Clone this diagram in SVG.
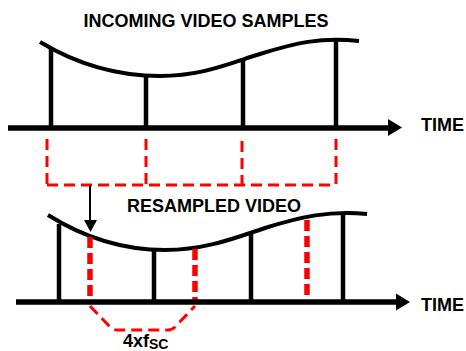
<svg xmlns="http://www.w3.org/2000/svg" width="466" height="351" viewBox="0 0 466 351">
  <style>
    .lbl { font-family: "Liberation Sans", Arial, sans-serif; font-weight: bold; font-size: 18px; fill: #000; }
    .axis { stroke: #000; stroke-width: 5.5; fill: none; }
    .wave { stroke: #000; stroke-width: 4; fill: none; }
    .smp { stroke: #000; stroke-width: 4.5; fill: none; }
    .tick { stroke: #f00; stroke-width: 3; fill: none; stroke-dasharray: 11 6; }
    .rs { stroke: #f00; stroke-width: 5.5; fill: none; stroke-dasharray: 11 5; }
  </style>

  <!-- incoming samples -->
  <g id="incoming">
    <text class="lbl" x="206" y="27" text-anchor="middle">INCOMING VIDEO SAMPLES</text>
    <path class="wave" d="M40,42 C70,60 110,76 160,76 C200,76 225,65 260,54 C295,43 320,37 359,41"/>
    <line class="smp" x1="51" y1="47" x2="51" y2="128"/>
    <line class="smp" x1="146" y1="75" x2="146" y2="128"/>
    <line class="smp" x1="243" y1="58" x2="243" y2="128"/>
    <line class="smp" x1="336" y1="39" x2="336" y2="128"/>
    <line class="axis" x1="8" y1="128" x2="390" y2="128"/>
    <polygon points="388,119 402,127.5 388,136" fill="#000"/>
    <text class="lbl" x="421" y="131">TIME</text>
  </g>

  <!-- sample instants carried down -->
  <g id="connectors">
    <path class="tick" d="M47,139 V185 M146,139 V185 M242,141 V185 M336,139 V185"/>
    <path class="tick" d="M47,185 H336"/>
    <line x1="90" y1="185" x2="90" y2="222" stroke="#000" stroke-width="2"/>
    <polygon points="84,220 97,220 90.5,232" fill="#000"/>
  </g>

  <!-- resampled video -->
  <g id="resampled">
    <text class="lbl" x="214" y="212" text-anchor="middle">RESAMPLED VIDEO</text>
    <path class="wave" d="M48,215 C75,232 115,250 165,250 C205,250 235,238 265,228 C300,217 330,210 367,214"/>
    <line class="smp" x1="59" y1="224" x2="59" y2="302"/>
    <line class="smp" x1="154" y1="249" x2="154" y2="302"/>
    <line class="smp" x1="251" y1="232" x2="251" y2="302"/>
    <line class="smp" x1="343" y1="214" x2="343" y2="302"/>
    <line class="rs" x1="90" y1="237" x2="90" y2="302"/>
    <line class="rs" x1="195" y1="249" x2="195" y2="302"/>
    <line class="rs" x1="307" y1="220" x2="307" y2="302"/>
    <line class="axis" x1="16" y1="302" x2="398" y2="302"/>
    <polygon points="396,293.5 410,302 396,310.5" fill="#000"/>
    <text class="lbl" x="421" y="311">TIME</text>
  </g>

  <!-- resampling period -->
  <g id="period">
    <path class="tick" d="M90,306 L110,327 Q113,330 117,330 L168,330 Q172,330 175,327 L195,306"/>
    <text class="lbl" x="123" y="347">4xf<tspan font-size="14" dy="2">SC</tspan></text>
  </g>
</svg>
